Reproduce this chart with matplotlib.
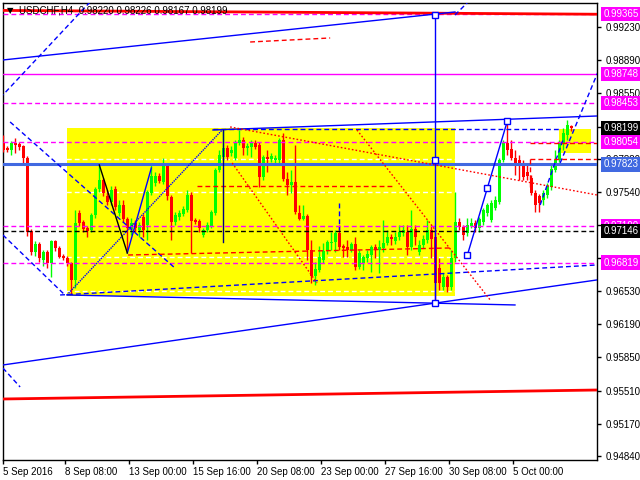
import matplotlib
matplotlib.use("Agg")
import matplotlib.pyplot as plt
from matplotlib.patches import Rectangle
import numpy as np

# ---------------- data ----------------
opens = [0.98043,0.97992,0.97971,0.98043,0.98033,0.98012,0.97890,0.97143,0.96928,0.97010,
         0.96846,0.96928,0.96816,0.97041,0.96969,0.96887,0.96867,0.96816,0.96642,0.97327,
         0.97235,0.97174,0.97153,0.97306,0.97572,0.97665,0.97501,0.97440,0.97572,0.97327,
         0.97409,0.97266,0.97163,0.97225,0.97153,0.97286,0.97204,0.97532,0.97634,0.97706,
         0.97644,0.97808,0.97491,0.97235,0.97286,0.97317,0.97358,0.97511,0.97255,0.97245,
         0.97102,0.97153,0.97194,0.97327,0.97767,0.97900,0.97992,0.97941,0.97890,0.98043,
         0.98074,0.97992,0.98002,0.98043,0.98023,0.97695,0.97900,0.97880,0.97869,0.97869,
         0.98074,0.97675,0.97613,0.97644,0.97327,0.97266,0.97296,0.96949,0.96683,0.96744,
         0.96846,0.96938,0.97020,0.97030,0.97122,0.96989,0.96979,0.96949,0.97010,0.96775,
         0.96816,0.96867,0.96897,0.96979,0.96949,0.96969,0.97020,0.97081,0.97041,0.97081,
         0.97122,0.97133,0.96979,0.97163,0.96928,0.97000,0.97051,0.97153,0.97081,0.96764,
         0.96570,0.96672,0.96570,0.96867,0.97235,0.97184,0.97122,0.97194,0.97225,0.97174,
         0.97235,0.97327,0.97255,0.97378,0.97440,0.97869,0.98043,0.97982,0.97890,0.97869,
         0.97829,0.97746,0.97685,0.97532,0.97501,0.97460,0.97511,0.97593,0.97767,0.97869,
         0.98043,0.98125,0.98220]
highs = [0.98125,0.98012,0.98064,0.98094,0.98053,0.98023,0.97910,0.97163,0.97041,0.97030,
         0.96949,0.96949,0.97051,0.97051,0.96989,0.96908,0.96887,0.96826,0.97358,0.97358,
         0.97255,0.97194,0.97327,0.97593,0.97818,0.97685,0.97562,0.97603,0.97603,0.97460,
         0.97460,0.97286,0.97276,0.97255,0.97235,0.97317,0.97562,0.97839,0.97746,0.97736,
         0.97890,0.97829,0.97511,0.97337,0.97358,0.97399,0.97562,0.97542,0.97276,0.97266,
         0.97174,0.97235,0.97358,0.97787,0.97971,0.98176,0.98023,0.98012,0.98074,0.98176,
         0.98105,0.98043,0.98074,0.98074,0.98053,0.97920,0.97971,0.97941,0.97920,0.98094,
         0.98145,0.97746,0.97767,0.98023,0.97409,0.97409,0.97317,0.97051,0.96826,0.96989,
         0.97020,0.97051,0.97133,0.97153,0.97204,0.97010,0.97051,0.97030,0.97081,0.96949,
         0.96897,0.96949,0.97000,0.97010,0.97051,0.97255,0.97153,0.97112,0.97133,0.97204,
         0.97204,0.97204,0.97358,0.97204,0.97051,0.97102,0.97255,0.97204,0.97133,0.96867,
         0.96713,0.96693,0.96949,0.97542,0.97276,0.97204,0.97276,0.97276,0.97255,0.97286,
         0.97378,0.97429,0.97460,0.97501,0.97890,0.98074,0.98278,0.98074,0.97971,0.97920,
         0.97869,0.97818,0.97716,0.97562,0.97521,0.97562,0.97634,0.97818,0.97971,0.98074,
         0.98197,0.98278,0.98226]
lows = [0.97951,0.97951,0.97920,0.97941,0.97971,0.97839,0.97092,0.96897,0.96887,0.96826,
        0.96785,0.96764,0.96672,0.96938,0.96867,0.96846,0.96785,0.96498,0.96560,0.97194,
        0.97133,0.97081,0.97133,0.97276,0.97542,0.97501,0.97409,0.97409,0.97358,0.97296,
        0.97235,0.96949,0.97102,0.97133,0.97081,0.97081,0.97051,0.97511,0.97603,0.97634,
        0.97623,0.97460,0.97051,0.97204,0.97255,0.97296,0.97337,0.96918,0.97214,0.97133,
        0.97081,0.97133,0.97174,0.97306,0.97746,0.97869,0.97869,0.97910,0.97869,0.98023,
        0.97920,0.97920,0.97900,0.97982,0.97593,0.97665,0.97746,0.97849,0.97839,0.97818,
        0.97654,0.97511,0.97532,0.97317,0.97255,0.97255,0.96846,0.96611,0.96590,0.96723,
        0.96816,0.96908,0.96949,0.96928,0.96949,0.96877,0.96877,0.96928,0.96744,0.96754,
        0.96744,0.96826,0.96723,0.96867,0.96713,0.96928,0.97000,0.97000,0.97010,0.97051,
        0.97092,0.96897,0.96949,0.97000,0.96897,0.96969,0.97020,0.96867,0.96386,0.96539,
        0.96539,0.96519,0.96539,0.96826,0.97153,0.97051,0.97092,0.97174,0.97133,0.97133,
        0.97204,0.97296,0.97235,0.97358,0.97419,0.97849,0.97920,0.97869,0.97716,0.97665,
        0.97665,0.97665,0.97511,0.97337,0.97337,0.97409,0.97480,0.97562,0.97746,0.97849,
        0.97971,0.98074,0.98167]
closes = [0.97971,0.97971,0.98043,0.98023,0.98002,0.97890,0.97133,0.96928,0.97010,0.96867,
          0.96928,0.96816,0.97041,0.96969,0.96877,0.96867,0.96816,0.96642,0.97225,0.97225,
          0.97163,0.97143,0.97306,0.97572,0.97665,0.97532,0.97440,0.97562,0.97388,0.97409,
          0.97266,0.97174,0.97225,0.97174,0.97204,0.97153,0.97542,0.97706,0.97706,0.97654,
          0.97808,0.97501,0.97235,0.97306,0.97327,0.97368,0.97511,0.97245,0.97235,0.97174,
          0.97153,0.97204,0.97337,0.97767,0.97920,0.97992,0.97900,0.97971,0.98043,0.98074,
          0.97992,0.98012,0.98043,0.98002,0.97695,0.97900,0.97880,0.97910,0.97890,0.98074,
          0.97675,0.97613,0.97644,0.97337,0.97266,0.97296,0.96949,0.96683,0.96754,0.96877,
          0.96938,0.97030,0.97030,0.97122,0.96979,0.96969,0.96949,0.97010,0.96775,0.96918,
          0.96877,0.96908,0.96979,0.96949,0.96979,0.97020,0.97081,0.97061,0.97081,0.97133,
          0.97153,0.96979,0.97163,0.97081,0.97000,0.97061,0.97153,0.97061,0.96611,0.96611,
          0.96672,0.96570,0.96867,0.97235,0.97184,0.97102,0.97204,0.97225,0.97174,0.97266,
          0.97358,0.97409,0.97429,0.97460,0.97869,0.98043,0.97971,0.97890,0.97839,0.97818,
          0.97695,0.97706,0.97532,0.97409,0.97429,0.97532,0.97603,0.97777,0.97869,0.98043,
          0.98145,0.98227,0.98199]

date_ticks = [-0.1, 15.5, 31.5, 47.5, 63.5, 79.5, 95.5, 111.5, 127.5]
date_labels = ["5 Sep 2016", "8 Sep 08:00", "13 Sep 00:00", "15 Sep 16:00", "20 Sep 08:00",
               "23 Sep 00:00", "27 Sep 16:00", "30 Sep 08:00", "5 Oct 00:00"]
price_ticks = [0.99230, 0.98890, 0.98550, 0.98210, 0.97880, 0.97540, 0.97200, 0.96870,
               0.96530, 0.96190, 0.95850, 0.95510, 0.95170, 0.94840]
# tick labels fully covered by price tags in the reference are left blank
hidden_tick_labels = [0.98210, 0.97200, 0.96870]

# horizontal levels
mag_dashed_levels = [0.99365, 0.98453, 0.98054, 0.97190, 0.96819]
mag_solid_level = 0.98748
blue_level = 0.97823
black_level = 0.97146
white_levels = [0.97880, 0.97542, 0.96877, 0.96529]

# tagged price labels on the right axis
tag_prices = [0.99365, 0.98748, 0.98453, 0.98054, 0.97823, 0.97190, 0.96819, 0.98199, 0.97146]
tag_colors = ["#ff00ff", "#ff00ff", "#ff00ff", "#ff00ff", "#4169e1", "#ff00ff", "#ff00ff", "black", "black"]

# rectangles (bar index, price)
rect_big = (16, 113, 0.96480, 0.98200)
rect_small = (139, 147, 0.97940, 0.98190)

# trend lines: (k1, p1, k2, p2)
blue_solid = [(-0.1, 0.98892, 112.9, 0.99383),
              (-0.1, 0.95772, 148.4, 0.96642),
              (52.4, 0.98176, 148.4, 0.98319),
              (15.9, 0.96488, 127.9, 0.96386),
              (31.0, 0.96918, 37.0, 0.97787)]
blue_dotted = [(15.9, 0.96488, 54.7, 0.98176)]
blue_dashed = [(14.2, 0.96488, 148.4, 0.96795),
               (52.4, 0.98186, 139.2, 0.98186),
               (1.7, 0.98258, 42.9, 0.96764),
               (-0.1, 0.97102, 15.4, 0.96488),
               (-0.1, 0.95741, 4.2, 0.95547),
               (134.2, 0.97409, 139.9, 0.98074),
               (139.2, 0.97839, 152.0, 0.99100),
               (112.9, 0.99352, 117.5, 0.99540),
               (21.7, 0.99486, -0.1, 0.98534),
               (84.0, 0.97429, 84.0, 0.97153)]
black_solid = [(24.0, 0.97818, 31.0, 0.96918)]
red_thick = [(-0.2, 0.99399, 148.4, 0.99360), (-0.2, 0.95424, 148.4, 0.95516)]
red_dashed = [(48.4, 0.97608, 97.4, 0.97608),
              (31.2, 0.96897, 111.7, 0.96969),
              (61.7, 0.99076, 81.7, 0.99117),
              (131.7, 0.98043, 148.4, 0.98043),
              (131.7, 0.97880, 148.4, 0.97880),
              (131.7, 0.97880, 131.7, 0.97590)]
red_dotted = [(57.2, 0.97839, 78.4, 0.96611),
              (88.4, 0.98176, 121.7, 0.96437),
              (56.7, 0.98207, 148.4, 0.97511)]
vline_k = 108
vline_prices = (0.96406, 0.99352)
vline_marks = [0.99352, 0.97869, 0.96406]
swing_k = [116, 121, 126]
swing_p = [0.96897, 0.97583, 0.98268]
navy_k = 55
navy_prices = (0.97030, 0.98176)

title = "USDCHF,H4  0.98220 0.98226 0.98167 0.98199"

# ---------------- plotting ----------------
plt.rcParams['font.family'] = ['Liberation Sans', 'DejaVu Sans']
fig = plt.figure(figsize=(6.4, 4.8), dpi=100)
L, R, T, Bt = 2.5, 597.0, 2.5, 460.0
ax = fig.add_axes([L / 640, 1 - Bt / 480, (R - L) / 640, (Bt - T) / 480])
ax.set_xlim(-0.2, 148.4)
ax.set_ylim(0.94800, 0.99480)

ax.add_patch(Rectangle((rect_big[0], rect_big[2]), rect_big[1] - rect_big[0],
                       rect_big[3] - rect_big[2], facecolor="#ffff00", edgecolor="none", zorder=0.5))
ax.add_patch(Rectangle((rect_small[0], rect_small[2]), rect_small[1] - rect_small[0],
                       rect_small[3] - rect_small[2], facecolor="#ffff00", edgecolor="none", zorder=0.5))

# candles
o = np.array(opens); h = np.array(highs); l = np.array(lows); c = np.array(closes)
k = np.arange(len(o))
up = c >= o
cols = np.where(up, "#00ff00", "#ff0000")
ax.vlines(k, l, h, colors=cols, linewidth=1, zorder=3)
body_h = np.maximum(np.abs(c - o), 0.00003)
ax.bar(k, body_h, bottom=np.minimum(o, c), width=0.7, color=cols, linewidth=0, zorder=3)

dash = (3.5, 2.2)
# horizontal lines
for p in white_levels:
    ax.axhline(p, color="white", lw=1, dashes=dash, zorder=2)
for p in mag_dashed_levels:
    ax.axhline(p, color="#ff00ff", lw=1, dashes=dash, zorder=4)
ax.axhline(mag_solid_level, color="#ff00ff", lw=1, zorder=4)
ax.axhline(blue_level, color="#4169e1", lw=2.2, zorder=4)
ax.axhline(black_level, color="black", lw=1, dashes=dash, zorder=4)

for (k1, p1, k2, p2) in red_thick:
    ax.plot([k1, k2], [p1, p2], color="#ff0000", lw=2, zorder=4)
for (k1, p1, k2, p2) in blue_solid:
    ax.plot([k1, k2], [p1, p2], color="#0000ff", lw=1, zorder=4)
for (k1, p1, k2, p2) in blue_dotted:
    ax.plot([k1, k2], [p1, p2], color="#0000ff", lw=1, dashes=(1, 0.7), zorder=4)
for (k1, p1, k2, p2) in blue_dashed:
    ax.plot([k1, k2], [p1, p2], color="#0000ff", lw=1, dashes=dash, zorder=4)
for (k1, p1, k2, p2) in black_solid:
    ax.plot([k1, k2], [p1, p2], color="black", lw=1, zorder=4)
for (k1, p1, k2, p2) in red_dashed:
    ax.plot([k1, k2], [p1, p2], color="#ff0000", lw=1, dashes=dash, zorder=4)
for (k1, p1, k2, p2) in red_dotted:
    ax.plot([k1, k2], [p1, p2], color="#ff0000", lw=1, dashes=(1.2, 1.5), zorder=4)

ax.plot([vline_k, vline_k], vline_prices, color="#0000ff", lw=1, zorder=4)
ax.plot([navy_k, navy_k], navy_prices, color="#000080", lw=1, zorder=4)
ax.plot([vline_k] * 3, vline_marks, ls="none", marker="s", ms=4.5, mfc="white", mec="#0000ff", mew=1, zorder=5)
ax.plot(swing_k, swing_p, color="#0000ff", lw=1, marker="s", ms=4.5, mfc="white", mec="#0000ff", mew=1, zorder=5)

# axes styling
for s in ax.spines.values():
    s.set_color("black"); s.set_linewidth(1)
ax.yaxis.tick_right()
ax.set_yticks(price_ticks)
ax.set_yticklabels(["" if p in hidden_tick_labels else f"{p:.5f}" for p in price_ticks])
ax.tick_params(axis="y", length=3, width=1, pad=3, labelsize=7, colors="black")
ax.set_xticks(date_ticks)
ax.set_xticklabels(date_labels)
ax.tick_params(axis="x", length=3, width=1, pad=2, labelsize=7, colors="black")
for lbl in ax.get_xticklabels():
    lbl.set_ha("left")

tr = ax.get_yaxis_transform()
for p, col in zip(tag_prices, tag_colors):
    ax.text(1.0105, p, f"{p:.5f}", transform=tr, color="white", fontsize=7, va="center", ha="left",
            clip_on=False, zorder=10,
            bbox=dict(boxstyle="square,pad=0.22", facecolor=col, edgecolor="none"))

ax.text(0.028, 0.9835, title, transform=ax.transAxes, fontsize=7, color="black", va="center", ha="left", zorder=6)
ax.text(0.008, 0.9835, "▼", transform=ax.transAxes, fontsize=6, color="black", va="center", ha="left",
        family="DejaVu Sans", zorder=6)

fig.savefig("out.png", dpi=100)
